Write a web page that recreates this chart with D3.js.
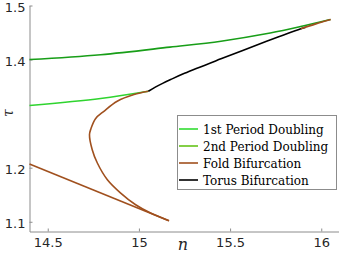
<!DOCTYPE html>
<html>
<head>
<meta charset="utf-8">
<script src="https://cdn.jsdelivr.net/npm/d3@7"></script>
<style>
  body { margin: 0; background: #fff; }
  svg { display: block; }
</style>
</head>
<body>
<div id="chart"></div>
<script>
var width = 339;
var height = 253;

// curves (n, tau)
var pdUpperN   = [14.40, 14.79, 15.17, 15.45, 15.72, 15.90, 16.05];
var pdUpperTau = [1.400, 1.409, 1.423, 1.434, 1.449, 1.462, 1.474];

var pdLowerN   = [14.40, 14.79, 15.052];
var pdLowerTau = [1.315, 1.328, 1.3413];

var torusN   = [15.052, 15.09, 15.13, 15.174, 15.25, 15.45, 15.70, 15.888, 15.915];
var torusTau = [1.3413, 1.3490, 1.3560, 1.3630, 1.3745, 1.4013, 1.4337, 1.4569, 1.4598];

var foldN   = [15.052, 14.973, 14.881, 14.808, 14.762, 14.737, 14.729, 14.744, 14.772, 14.827, 14.900, 14.982, 15.064, 15.165];
var foldTau = [1.3413, 1.3352, 1.3228, 1.3043, 1.2907, 1.2722, 1.2611, 1.2333, 1.2087, 1.1778, 1.1531, 1.1315, 1.1161, 1.1019];

var foldLowN   = [15.165, 14.40];
var foldLowTau = [1.1019, 1.2069];

var foldTopN   = [15.888, 15.970, 16.052];
var foldTopTau = [1.4569, 1.466, 1.474];

var xTicks = [14.5, 15, 15.5, 16];
var yTicks = [1.1, 1.2, 1.4, 1.5];

var legendLabels = ['1st Period Doubling', '2nd Period Doubling', 'Fold Bifurcation', 'Torus Bifurcation'];
var legendColors = ['#33dd33', '#66c41a', '#a0501e', '#000000'];

var svg = d3.select('#chart').append('svg').attr('width', width).attr('height', height);

var x = d3.scaleLinear().domain([14.4, 16.1]).range([29.5, 339.5]);
var y = d3.scaleLinear().domain([1.082, 1.5]).range([231.5, 5.5]);

var axisColor = '#8c8c8c';
var tickFont = '"DejaVu Sans", sans-serif';

// axes
var xAxis = svg.append('g').attr('transform', 'translate(0,' + y.range()[0] + ')')
    .call(d3.axisBottom(x).tickValues(xTicks).tickSizeInner(-3).tickSizeOuter(0).tickPadding(6).tickFormat(d3.format('')));
var yAxis = svg.append('g').attr('transform', 'translate(' + x.range()[0] + ',0)')
    .call(d3.axisLeft(y).tickValues(yTicks).tickSizeInner(-3).tickSizeOuter(0).tickPadding(4).tickFormat(d3.format('')));

[xAxis, yAxis].forEach(function(g) {
    g.select('.domain').attr('stroke', axisColor);
    g.selectAll('.tick line').attr('stroke', axisColor);
    g.selectAll('.tick text').attr('fill', '#262626').style('font-family', tickFont).style('font-size', '13px');
});
yAxis.selectAll('.tick text').attr('dy', '0.45em');

// axis labels
svg.append('text')
    .attr('x', 183).attr('y', 249.5)
    .attr('text-anchor', 'middle')
    .style('font-family', '"DejaVu Serif", serif').style('font-style', 'italic').style('font-size', '16px')
    .attr('fill', '#262626')
    .text('n');

svg.append('text')
    .attr('transform', 'translate(12.5,113) rotate(-90)')
    .attr('text-anchor', 'middle')
    .style('font-family', '"DejaVu Serif", serif').style('font-style', 'italic').style('font-size', '14px')
    .attr('fill', '#262626')
    .text('τ');

// curves
var line = d3.line().x(function(d) { return x(d[0]); }).y(function(d) { return y(d[1]); })
    .curve(d3.curveCatmullRom.alpha(0.5));

function curve(ns, taus, color) {
    svg.append('path')
        .datum(d3.zip(ns, taus))
        .attr('d', line)
        .attr('fill', 'none')
        .attr('stroke', color)
        .attr('stroke-width', 1.6)
        .attr('stroke-linejoin', 'round');
}

curve(pdUpperN, pdUpperTau, '#189e18');
curve(pdLowerN, pdLowerTau, '#2fd42f');
curve(foldN, foldTau, '#a0501e');
curve(foldLowN, foldLowTau, '#a0501e');
curve(torusN, torusTau, '#000000');
curve(foldTopN, foldTopTau, '#a0501e');

// legend
var legend = svg.append('g').attr('class', 'legend');
legend.append('rect')
    .attr('x', 177.5).attr('y', 115.5).attr('width', 159).attr('height', 74)
    .attr('fill', '#fff').attr('stroke', '#8c8c8c').attr('stroke-width', 1);

legendLabels.forEach(function(lab, i) {
    var yy = 129 + i * 17;
    legend.append('line')
        .attr('x1', 179).attr('x2', 198).attr('y1', yy).attr('y2', yy)
        .attr('stroke', legendColors[i]).attr('stroke-width', 1.6);
    legend.append('text')
        .attr('x', 203).attr('y', yy + 4.5)
        .style('font-family', '"DejaVu Serif", serif').style('font-size', '12px')
        .attr('fill', '#000')
        .text(lab);
});
</script>
</body>
</html>
